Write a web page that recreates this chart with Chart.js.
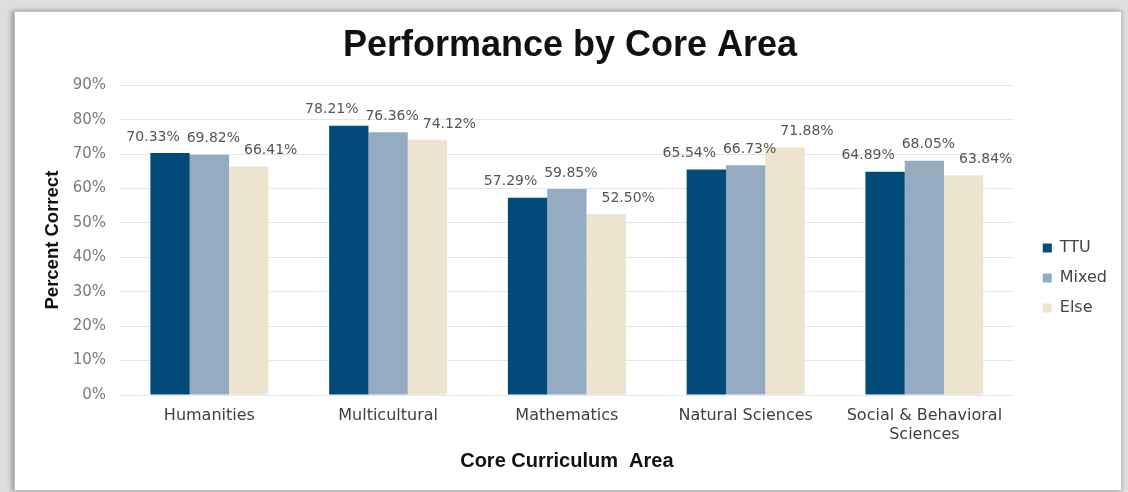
<!DOCTYPE html>
<html>
<head>
<meta charset="utf-8">
<script src="https://cdn.jsdelivr.net/npm/chart.js@4.4.1/dist/chart.umd.min.js"></script>
<style>
  html, body { margin: 0; padding: 0; }
  body { width: 1128px; height: 492px; background: #dedede; position: relative; overflow: hidden; }
  #frame { position: absolute; left: 14px; top: 11px; width: 1106px; height: 478px; background: #fff;
           border: 1px solid #c4c4c4; box-shadow: -3px 0 5px rgba(0,0,0,0.25), 0 0 4px rgba(0,0,0,0.15); }
  #c { position: absolute; left: 0; top: 0; }
</style>
</head>
<body>
<div id="frame"></div>
<canvas id="c" width="1128" height="492"></canvas>
<script>
const categories = ['Humanities', 'Multicultural', 'Mathematics', 'Natural Sciences', ['Social & Behavioral', 'Sciences']];
const seriesNames = ['TTU', 'Mixed', 'Else'];
const ttuValues   = [70.33, 78.21, 57.29, 65.54, 64.89];
const mixedValues = [69.82, 76.36, 59.85, 66.73, 68.05];
const elseValues  = [66.41, 74.12, 52.50, 71.88, 63.84];
const yTicks = [0, 10, 20, 30, 40, 50, 60, 70, 80, 90];

const colors = ['#024a79', '#94abc2', '#ece4cf'];
const labelShiftX = [-17, 4, 22];

const dataLabels = {
  id: 'dataLabels',
  afterDatasetsDraw(chart) {
    const ctx = chart.ctx;
    ctx.save();
    ctx.font = '14px "DejaVu Sans"';
    ctx.fillStyle = '#555555';
    ctx.textAlign = 'center';
    ctx.textBaseline = 'middle';
    chart.data.datasets.forEach((ds, i) => {
      const meta = chart.getDatasetMeta(i);
      meta.data.forEach((bar, j) => {
        ctx.fillText(ds.data[j].toFixed(2) + '%', bar.x + labelShiftX[i], bar.y - 16);
      });
    });
    ctx.restore();
  }
};

new Chart(document.getElementById('c'), {
  type: 'bar',
  data: {
    labels: categories,
    datasets: [
      { label: seriesNames[0], data: ttuValues, backgroundColor: colors[0] },
      { label: seriesNames[1], data: mixedValues, backgroundColor: colors[1] },
      { label: seriesNames[2], data: elseValues, backgroundColor: colors[2] }
    ]
  },
  options: {
    responsive: false,
    animation: false,
    devicePixelRatio: 1,
    categoryPercentage: 0.66,
    barPercentage: 1.0,
    layout: { padding: { left: 23, right: 11, top: 12, bottom: 10 } },
    plugins: {
      tooltip: { enabled: false },
      title: {
        display: true,
        text: 'Performance by Core Area',
        color: '#111111',
        font: { family: '"Liberation Sans", Arial, sans-serif', size: 36, weight: 'bold', lineHeight: 1.2 },
        padding: { top: 12, bottom: 18 }
      },
      legend: {
        position: 'right',
        align: 'center',
        title: { display: true, text: '', font: { size: 10, lineHeight: 1 }, padding: { top: 52, bottom: 0 } },
        labels: {
          boxWidth: 9,
          boxHeight: 9,
          padding: 14,
          color: '#444444',
          font: { family: '"DejaVu Sans"', size: 16 }
        }
      }
    },
    scales: {
      x: {
        grid: { display: false, drawTicks: false },
        border: { display: false },
        ticks: {
          color: '#404040',
          padding: 11,
          autoSkip: false,
          maxRotation: 0,
          font: { family: '"DejaVu Sans"', size: 16 }
        },
        title: {
          display: true,
          text: 'Core Curriculum  Area',
          color: '#111111',
          font: { family: '"Liberation Sans", Arial, sans-serif', size: 20, weight: 'bold' },
          padding: { top: 0, bottom: 9 }
        },
        afterFit(s) { s.height = 87; }
      },
      y: {
        min: 0,
        max: 90,
        afterBuildTicks(s) { s.ticks = yTicks.map(v => ({ value: v })); },
        grid: { color: '#e6e6e6', drawTicks: false, lineWidth: 1 },
        border: { display: false },
        ticks: {
          color: '#7a7a7a',
          padding: 14,
          font: { family: '"DejaVu Sans"', size: 15 },
          callback: v => v + '%'
        },
        title: {
          display: true,
          text: 'Percent Correct',
          color: '#111111',
          font: { family: '"Liberation Sans", Arial, sans-serif', size: 18.5, weight: 'bold' },
          padding: { top: 19, bottom: 0 }
        },
        afterFit(s) { s.width = 97; }
      },
      spacer: {
        type: 'linear',
        position: 'right',
        display: true,
        grid: { display: false, drawTicks: false },
        border: { display: false },
        ticks: { display: false },
        afterFit(s) { s.width = 15; }
      }
    }
  },
  plugins: [dataLabels]
});
</script>
</body>
</html>
